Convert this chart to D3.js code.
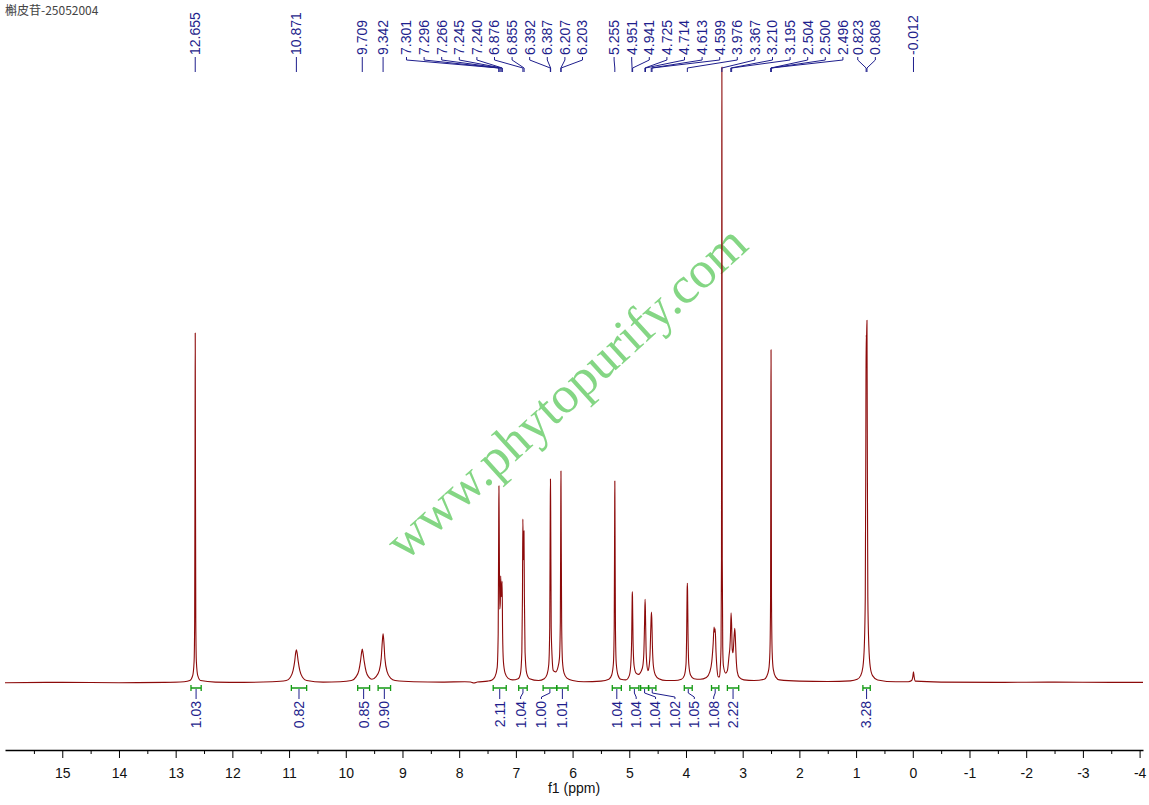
<!DOCTYPE html>
<html>
<head>
<meta charset="utf-8">
<script src="https://cdn.jsdelivr.net/npm/d3@7"></script>
<style>
  body { margin: 0; background: #fff; }
  svg { display: block; }
</style>
</head>
<body>
<svg id="chart"></svg>
<script>
// ---- data ----
const title = "槲皮苷-25052004";
const watermark = "www.phytopurify.com";

// peak pick labels (ppm)
const peakLabels = [12.655, 10.871, 9.709, 9.342,
  7.301, 7.296, 7.266, 7.245, 7.240, 6.876, 6.855, 6.392, 6.387, 6.207, 6.203,
  5.255, 4.951, 4.941, 4.725, 4.714, 4.613, 4.599, 3.976, 3.367, 3.210, 3.195,
  2.504, 2.500, 2.496, 0.823, 0.808, -0.012];

// integrals: range start / end (ppm) and value
const intFrom = [12.73, 10.96, 9.79, 9.43, 7.40, 6.95, 6.52, 6.28, 5.30, 4.99, 4.80, 4.66, 4.03, 3.55, 3.27, 0.88];
const intTo   = [12.55, 10.69, 9.58, 9.21, 7.17, 6.80, 6.28, 6.08, 5.14, 4.83, 4.66, 4.53, 3.89, 3.42, 3.07, 0.75];
const intValues = [1.03, 0.82, 0.85, 0.90, 2.11, 1.04, 1.00, 1.01, 1.04, 1.04, 1.04, 1.02, 1.05, 1.08, 2.22, 3.28];

const majorTicks = [15, 14, 13, 12, 11, 10, 9, 8, 7, 6, 5, 4, 3, 2, 1, 0, -1, -2, -3, -4];
const minorTicks = [15.5, 14.5, 13.5, 12.5, 11.5, 10.5, 9.5, 8.5, 7.5, 6.5, 5.5, 4.5, 3.5, 2.5, 1.5, 0.5, -0.5, -1.5, -2.5, -3.5];

// spectrum trace: [ppm, relative intensity]
const trace = [
  [16.01, 0.05], [15.0, 0.1], [14.0, 0.05], [13.2, 0.1], [12.85, 0.2],
  [12.75, 0.4], [12.70, 1.2], [12.675, 3.5], [12.665, 10], [12.658, 40], [12.655, 56.8], [12.652, 40], [12.645, 10], [12.635, 3.5], [12.61, 1.2], [12.56, 0.4],
  [12.3, 0.15], [11.8, 0.1], [11.3, 0.2],
  [11.05, 0.4], [10.98, 0.9], [10.93, 2.0], [10.90, 3.6], [10.885, 4.8], [10.871, 5.4], [10.857, 4.8], [10.84, 3.6], [10.81, 2.0], [10.76, 0.9], [10.69, 0.4],
  [10.4, 0.15], [10.1, 0.2], [9.9, 0.4],
  [9.82, 1.0], [9.77, 2.0], [9.74, 3.6], [9.722, 4.9], [9.709, 5.5], [9.696, 4.9], [9.675, 3.5], [9.64, 1.8], [9.59, 0.9], [9.54, 0.6],
  [9.47, 1.0], [9.41, 2.0], [9.375, 4.0], [9.355, 6.8], [9.342, 8.0], [9.329, 6.8], [9.31, 4.0], [9.27, 1.8], [9.21, 0.8], [9.13, 0.4],
  [8.8, 0.2], [8.3, 0.15], [7.9, 0.2], [7.8, 0.15], [7.74, 0.0], [7.68, 0.15], [7.5, 0.3],
  [7.42, 0.5], [7.37, 1.0], [7.33, 2.5], [7.312, 8], [7.303, 26], [7.299, 32.0], [7.294, 26], [7.285, 12], [7.275, 13], [7.268, 17.4], [7.258, 14], [7.250, 15], [7.243, 16.5], [7.234, 8], [7.22, 3.5], [7.19, 1.6], [7.14, 0.8], [7.06, 0.5],
  [6.96, 0.7], [6.92, 1.5], [6.895, 5], [6.884, 14], [6.877, 26.6], [6.870, 21], [6.864, 20], [6.857, 24.7], [6.850, 14], [6.838, 5], [6.81, 1.6], [6.76, 0.7],
  [6.6, 0.4], [6.5, 0.7],
  [6.45, 1.4], [6.42, 3], [6.403, 9], [6.394, 28], [6.390, 33.1], [6.386, 28], [6.377, 9], [6.36, 4],
  [6.34, 2.0], [6.30, 1.8], [6.26, 2.5],
  [6.232, 4], [6.216, 10], [6.208, 29], [6.205, 34.4], [6.202, 29], [6.193, 10], [6.178, 3.5], [6.15, 1.6], [6.10, 0.8], [6.0, 0.4],
  [5.8, 0.2], [5.5, 0.3],
  [5.36, 0.6], [5.31, 1.3], [5.28, 3.2], [5.266, 9], [5.258, 27], [5.255, 32.8], [5.252, 27], [5.244, 9], [5.23, 3.2], [5.20, 1.3], [5.15, 0.6],
  [5.06, 0.5],
  [5.00, 1.2], [4.975, 2.8], [4.958, 7], [4.949, 14], [4.946, 14.8], [4.943, 14], [4.934, 7], [4.915, 2.8], [4.88, 1.6], [4.84, 1.4],
  [4.77, 2.4], [4.745, 4.5], [4.730, 10], [4.722, 13.6], [4.716, 12], [4.705, 6], [4.69, 3], [4.67, 2.0], [4.66, 2.2],
  [4.635, 4.5], [4.620, 9], [4.610, 11.5], [4.603, 10.5], [4.592, 6], [4.575, 2.8], [4.54, 1.3], [4.48, 0.7], [4.35, 0.4],
  [4.2, 0.4], [4.08, 0.6],
  [4.03, 1.2], [4.00, 3], [3.988, 8], [3.980, 15], [3.976, 16.2], [3.972, 15], [3.964, 8], [3.95, 3], [3.92, 1.3], [3.86, 0.7], [3.75, 0.6], [3.64, 0.9],
  [3.58, 1.8], [3.545, 3.5], [3.52, 6.5], [3.505, 9.1], [3.495, 8.3], [3.485, 8.8], [3.47, 5.0], [3.45, 2.0], [3.43, 1.0], [3.41, 1.0],
  [3.395, 2.5], [3.382, 6], [3.374, 20], [3.369, 80], [3.367, 100], [3.365, 80], [3.360, 20], [3.352, 6], [3.34, 2.8], [3.30, 1.6], [3.27, 2.0],
  [3.24, 4.5], [3.225, 5.9], [3.215, 8], [3.205, 11.4], [3.195, 9.5], [3.185, 5.5], [3.17, 4.9], [3.155, 7.0], [3.14, 8.9], [3.13, 7.5], [3.115, 4.0], [3.095, 1.8], [3.06, 0.9], [2.98, 0.5],
  [2.8, 0.4], [2.62, 0.6],
  [2.58, 1.0], [2.54, 2.2], [2.52, 5], [2.508, 14], [2.503, 42], [2.500, 54.1], [2.497, 42], [2.492, 14], [2.48, 5], [2.46, 2.2], [2.42, 1.0], [2.35, 0.5],
  [2.0, 0.3], [1.5, 0.25], [1.1, 0.35], [0.98, 0.6],
  [0.92, 1.2], [0.88, 2.6], [0.855, 6], [0.838, 14], [0.828, 40], [0.823, 56.5], [0.816, 56], [0.808, 58.9], [0.803, 42], [0.793, 14], [0.775, 6], [0.75, 2.6], [0.71, 1.2], [0.62, 0.5],
  [0.3, 0.2], [0.08, 0.2],
  [0.02, 0.4], [0.0, 1.0], [-0.012, 1.8], [-0.024, 1.0], [-0.045, 0.3],
  [-0.5, 0.15], [-1.5, 0.1], [-2.5, 0.15], [-3.5, 0.1], [-4.06, 0.1]
];

// ---- layout ----
const width = 1149, height = 805;
const baseY = 683, topY = 67, axisY = 750;
const navy = "#1e1e8c", red = "#8c0a0a", green = "#139a13";
const sans = "'Liberation Sans', Arial, sans-serif";

const svg = d3.select("#chart").attr("width", width).attr("height", height);

const x = d3.scaleLinear().domain([16.01, -4.06]).range([5, 1143]);
const y = d3.scaleLinear().domain([0, 100]).range([baseY, topY]);

// spread labels: nearby targets form a group, groups spaced evenly and pushed apart when they collide
function placeLabels(targets, spacing, groupGap, blockGap) {
  const groups = [];
  targets.forEach(t => {
    const g = groups[groups.length - 1];
    if (g && t - g.items[g.items.length - 1] < groupGap) g.items.push(t);
    else groups.push({ items: [t] });
  });
  groups.forEach(g => {
    const n = g.items.length, lo = g.items[0], hi = g.items[n - 1];
    g.step = n > 1 ? Math.max(spacing, (hi - lo) / (n - 1)) : 0;
    g.start = (lo + hi) / 2 - g.step * (n - 1) / 2;
    g.end = g.start + g.step * (n - 1);
  });
  for (let k = 1; k < groups.length; k++) {
    const a = groups[k - 1], b = groups[k];
    if (b.start < a.end) {
      const d = (a.end + blockGap - b.start) / 2;
      a.start -= d; a.end -= d; b.start += d; b.end += d;
    }
  }
  return groups.flatMap(g => g.items.map((_, i) => g.start + i * g.step));
}

// title
svg.append("text")
  .attr("x", 5).attr("y", 15)
  .attr("font-family", "'Noto Sans CJK SC', sans-serif")
  .attr("font-size", 12).attr("fill", "#444")
  .text(title);

// watermark
svg.append("text")
  .attr("transform", "translate(405,562) rotate(-42.3)")
  .attr("font-family", "'Liberation Serif', 'Times New Roman', serif")
  .attr("font-size", 52).attr("fill", "#84d684")
  .text(watermark);

// spectrum
const line = d3.line()
  .x(d => x(d[0]))
  .y(d => y(d[1]))
  .curve(d3.curveMonotoneX);

svg.append("path")
  .datum(trace)
  .attr("d", line)
  .attr("fill", "none")
  .attr("stroke", red)
  .attr("stroke-width", 1.1)
  .attr("stroke-linejoin", "round");

// peak labels
const peakX = peakLabels.map(p => x(p));
const peakLx = placeLabels(peakX, 17.6, 42, 31.6);
const peakG = svg.append("g");
peakLabels.forEach((p, i) => {
  const lx = peakLx[i], px = peakX[i];
  peakG.append("path")
    .attr("d", `M${lx},57V60L${px},68V72`)
    .attr("fill", "none").attr("stroke", navy).attr("stroke-width", 1);
  peakG.append("text")
    .attr("transform", `translate(${lx},55) rotate(-90)`)
    .attr("dy", "0.35em")
    .attr("font-family", sans).attr("font-size", 14).attr("fill", navy)
    .text(p.toFixed(3));
});

// integrals
const intG = svg.append("g");
const intCx = intFrom.map((f, i) => (x(f) + x(intTo[i])) / 2);
const intLx = placeLabels(intCx, 18, 45, 20);
intValues.forEach((v, i) => {
  const x0 = x(intFrom[i]), x1 = x(intTo[i]), cx = intCx[i], lx = intLx[i];
  intG.append("path")
    .attr("d", `M${x0},685V691M${x0},688H${x1}M${x1},685V691`)
    .attr("fill", "none").attr("stroke", green).attr("stroke-width", 1.3);
  intG.append("path")
    .attr("d", `M${cx},689V693L${lx},697V699`)
    .attr("fill", "none").attr("stroke", navy).attr("stroke-width", 1);
  intG.append("text")
    .attr("transform", `translate(${lx},701) rotate(-90)`)
    .attr("dy", "0.35em")
    .attr("text-anchor", "end")
    .attr("font-family", sans).attr("font-size", 14).attr("fill", navy)
    .text(v.toFixed(2));
});

// x axis
const axisG = svg.append("g")
  .attr("transform", `translate(0,${axisY})`)
  .call(d3.axisBottom(x)
    .tickValues(majorTicks)
    .tickSize(8)
    .tickSizeOuter(0)
    .tickPadding(10)
    .tickFormat(d => String(d)));
axisG.attr("font-family", sans).attr("font-size", 14);
axisG.select(".domain").attr("stroke", "#000").attr("stroke-width", 1.6);
axisG.selectAll(".tick text").attr("fill", "#111");

const minorG = svg.append("g")
  .attr("transform", `translate(0,${axisY})`)
  .call(d3.axisBottom(x).tickValues(minorTicks).tickSize(4).tickFormat(""));
minorG.select(".domain").remove();

svg.append("text")
  .attr("x", 574).attr("y", 793)
  .attr("text-anchor", "middle")
  .attr("font-family", sans).attr("font-size", 14).attr("fill", "#111")
  .text("f1 (ppm)");
</script>
</body>
</html>
